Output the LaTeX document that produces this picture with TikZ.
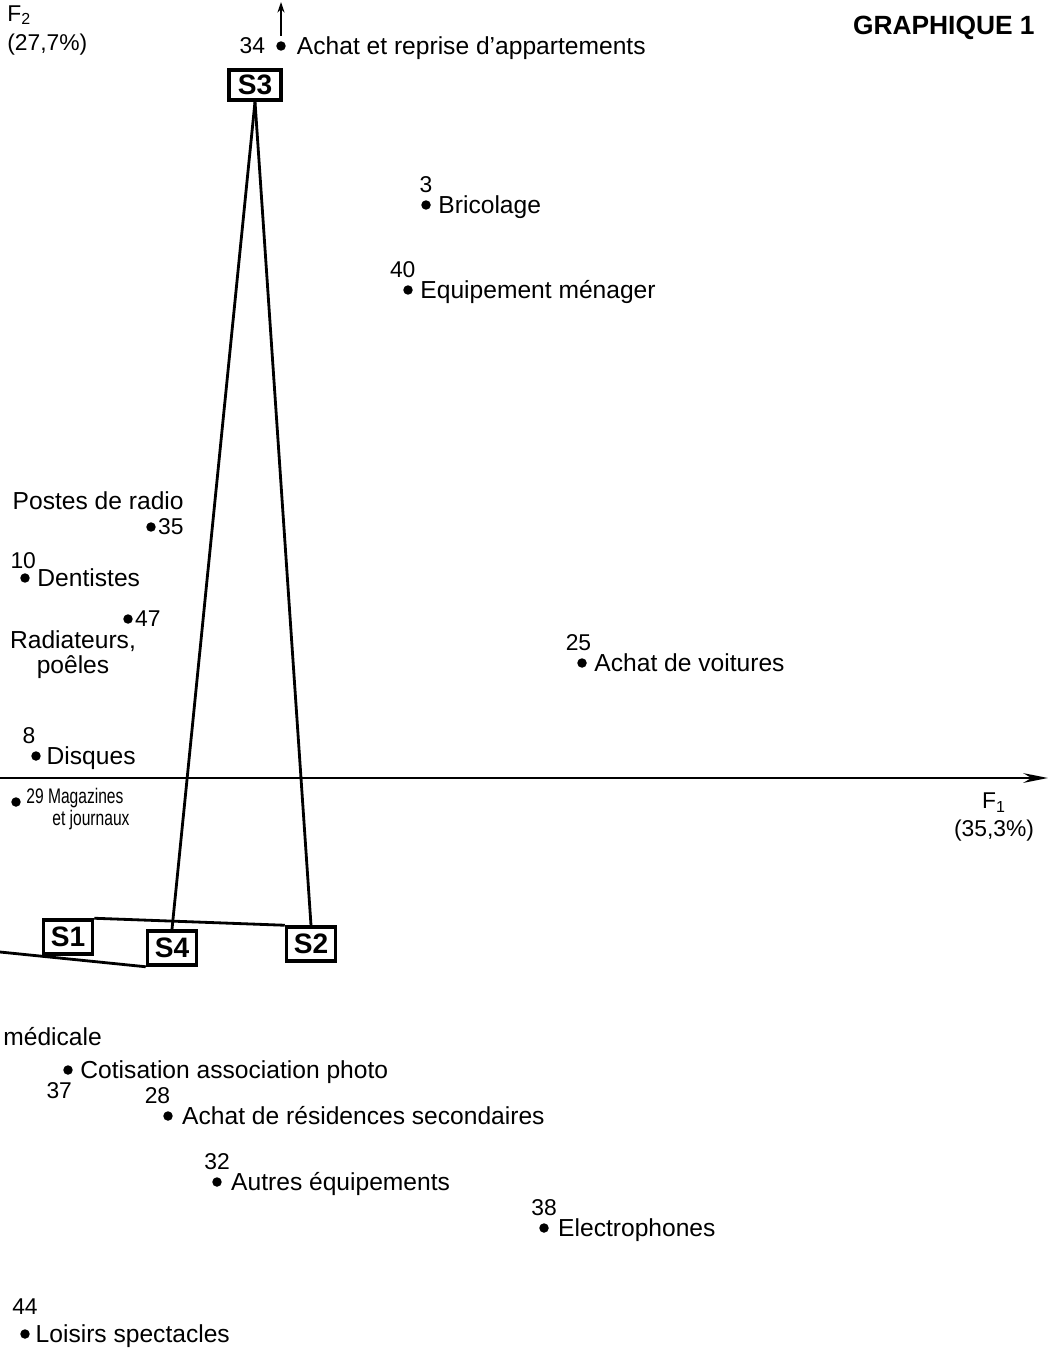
\documentclass[tikz,border=0pt]{standalone}
\usepackage{fontspec}
\setmainfont{Liberation Sans}
\newfontfamily\narrowfont[FakeStretch=0.74]{Liberation Sans}
\usetikzlibrary{positioning, arrows.meta}

\begin{document}
\begin{tikzpicture}[
        x=0.02cm, y=-0.02cm,
        dot/.style={circle, fill=black, inner sep=0pt, minimum size=5.4pt},
        num/.style={font=\fontsize{13}{15}\selectfont, inner sep=0pt},
        item/.style={font=\fontsize{14}{17}\selectfont, inner sep=0pt, text height=10pt, text depth=0pt},
        narrow/.style={font=\narrowfont\fontsize{12}{14}\selectfont, inner sep=0pt, anchor=west},
        sbox/.style={
                draw,
                line width=2pt,
                minimum width=0.98cm,
                minimum height=0.68cm,
                inner sep=0pt,
                font=\fontsize{16}{18}\selectfont\bfseries
            },
        link/.style={line width=1.6pt},
        label distance=4pt
    ]
    \useasboundingbox (0,0) rectangle (1052,1348);

    \node[font=\fontsize{15}{18}\selectfont\bfseries, anchor=east, inner sep=0pt] (title) at (1035,28) {GRAPHIQUE 1};

    % axes
    \coordinate (f1start) at (0,778);
    \coordinate (f1end) at (1048,778);
    \coordinate (f2end) at (281,2);
    \draw[line width=1.4pt, -{Stealth[length=14pt,width=5.5pt]}] (f1start) -- (f1end);
    \node[align=center, inner sep=0pt, font=\fontsize{13}{16}\selectfont] (f1) at (994,817) {F\textsubscript{1}\\(35,3\%)};
    \node[align=left, anchor=north west, inner sep=0pt, font=\fontsize{13}{17}\selectfont] (f2) at (7,5) {F\textsubscript{2}\\(27,7\%)};

    % points
    \node[dot, label={[num,label distance=6pt]left:34}] (p34) at (281,46) {};
    \node[item, right=6pt of p34] (t34) {Achat et reprise d'appartements};
    \draw[line width=0.9pt, -{Stealth[length=6pt,width=4pt]}, shorten <=3pt] (p34.north) -- (f2end);

    \node[dot, label={[num]above:3}] (p3) at (426,205) {};
    \node[item, right=4pt of p3] (t3) {Bricolage};

    \node[dot, label={[num,xshift=-3pt]above:40}] (p40) at (408,290) {};
    \node[item, right=4pt of p40] (t40) {Equipement ménager};

    \node[item, anchor=east] (t35) at (184,501) {Postes de radio};
    \node[dot, label={[num,label distance=1pt]right:35}] (p35) at (151,527) {};

    \node[dot, label={[num,label distance=2pt,xshift=-1pt]above:10}] (p10) at (25,578) {};
    \node[item, right=4pt of p10] (t10) {Dentistes};

    \node[dot, label={[num,label distance=1pt]right:47}] (p47) at (128,619) {};
    \node[align=center, inner sep=0pt, font=\fontsize{14}{14.2}\selectfont] (t47) at (73,655) {Radiateurs,\\poêles};

    \node[dot, label={[num,xshift=-2pt]above:25}] (p25) at (582,663) {};
    \node[item, right=4pt of p25] (t25) {Achat de voitures};

    \node[dot, label={[num,xshift=-4pt]above:8}] (p8) at (36,756) {};
    \node[item, right=3pt of p8] (t8) {Disques};

    \node[dot] (p29) at (16,802) {};
    \node[narrow] (t29) at (26,798) {29 Magazines};
    \node[narrow] (t29b) at (52,820) {et journaux};

    \node[item, anchor=west] (tmed) at (3,1037) {médicale};

    \node[dot, label={[num,xshift=-5pt]below:37}] (p37) at (68,1070) {};
    \node[item, right=4pt of p37] (t37) {Cotisation association photo};

    \node[dot, label={[num,xshift=-6pt]above:28}] (p28) at (168,1116) {};
    \node[item, right=5pt of p28] (t28) {Achat de résidences secondaires};

    \node[dot, label={[num]above:32}] (p32) at (217,1182) {};
    \node[item, right=5pt of p32] (t32) {Autres équipements};

    \node[dot, label={[num]above:38}] (p38) at (544,1228) {};
    \node[item, right=5pt of p38] (t38) {Electrophones};

    \node[dot, label={[num,label distance=8pt]above:44}] (p44) at (25,1334) {};
    \node[item, right=3pt of p44] (t44) {Loisirs spectacles};

    % S boxes
    \node[sbox, minimum height=0.6cm, minimum width=1.04cm] (s3) at (255,85) {S3};
    \node[sbox] (s1) at (68,937) {S1};
    \node[sbox] (s4) at (172,948) {S4};
    \node[sbox] (s2) at (311,944) {S2};
    \coordinate (s5cut) at (0,952);

    \draw[link] (s3.south) -- (s4.north);
    \draw[link] (s3.south) -- (s2.north);
    \draw[link] (s1.north east) -- (s2.north west);
    \draw[link] (s5cut) -- (s4.south west);
\end{tikzpicture}
\end{document}
